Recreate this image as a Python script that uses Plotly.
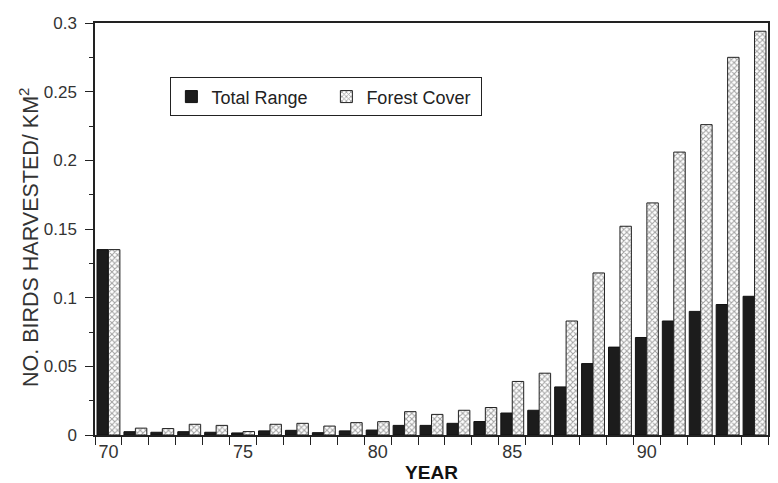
import plotly.graph_objects as go

years = list(range(70, 95))
total_range = [0.135, 0.0024, 0.002, 0.0024, 0.002, 0.0015, 0.003, 0.0034, 0.0017, 0.003,
               0.0036, 0.007, 0.007, 0.0085, 0.0098, 0.016, 0.018, 0.035, 0.052, 0.064,
               0.071, 0.083, 0.090, 0.095, 0.101]
forest_cover = [0.135, 0.005, 0.0047, 0.0078, 0.007, 0.0025, 0.0078, 0.0085, 0.0065, 0.009,
                0.0097, 0.017, 0.015, 0.018, 0.020, 0.039, 0.045, 0.083, 0.118, 0.152,
                0.169, 0.206, 0.226, 0.275, 0.294]
x_tick_labels = [70, 75, 80, 85, 90]

FONT = "Arial, Liberation Sans, sans-serif"

fig = go.Figure()
fig.add_trace(go.Bar(
    x=years, y=total_range, name="Total Range",
    marker=dict(color="#1c1c1c", line=dict(color="#111", width=1)),
))
fig.add_trace(go.Bar(
    x=years, y=forest_cover, name="Forest Cover",
    marker=dict(color="white", line=dict(color="#222", width=1),
                pattern=dict(shape="x", size=4, solidity=0.45, fgcolor="#444", bgcolor="white")),
))

# the page body has an 8px margin, so the figure is sized/offset to compensate
fig.update_layout(
    width=770, height=475,
    margin=dict(l=87, r=10, t=15, b=48),
    paper_bgcolor="white", plot_bgcolor="white",
    barmode="group", bargap=0.15, bargroupgap=0,
    font=dict(family=FONT, size=18, color="#222"),
    showlegend=True,
    legend=dict(orientation="h", x=0.112, y=0.868, xanchor="left", yanchor="top",
                bordercolor="#222", borderwidth=1, bgcolor="white",
                font=dict(family=FONT, size=18, color="#222"),
                itemwidth=30, traceorder="normal",
                entrywidth=110, entrywidthmode="pixels"),
    xaxis=dict(
        range=[years[0] - 0.5, years[-1] + 0.5], automargin=False,
        tickmode="array", tickvals=x_tick_labels, ticks="",
        minor=dict(tick0=years[0] - 0.5, dtick=1, ticks="outside", ticklen=8,
                   tickcolor="#222", showgrid=False),
        showline=True, linecolor="#222", linewidth=1.5, mirror=True,
        showgrid=False, zeroline=False,
        tickfont=dict(size=18, color="#333"), ticklabelstandoff=0,
        title=dict(text="<b>YEAR</b>", font=dict(size=19, color="#111"), standoff=8),
    ),
    yaxis=dict(
        range=[0, 0.3], dtick=0.05, tick0=0, automargin=False,
        ticks="outside", ticklen=8, tickcolor="#222",
        ticklabelstandoff=5,
        minor=dict(dtick=0.025, ticks="outside", ticklen=4, tickcolor="#222"),
        showline=True, linecolor="#222", linewidth=1.5, mirror=True,
        showgrid=False, zeroline=False,
        tickfont=dict(size=17, color="#333"),
    ),
    annotations=[dict(
        text="NO. BIRDS HARVESTED/ KM<sup>2</sup>",
        xref="paper", yref="paper", x=0, y=0.478,
        xanchor="center", yanchor="middle", xshift=-66,
        textangle=-90, showarrow=False,
        font=dict(family=FONT, size=21.5, color="#333"),
    )],
)

fig.write_html("out.html")
